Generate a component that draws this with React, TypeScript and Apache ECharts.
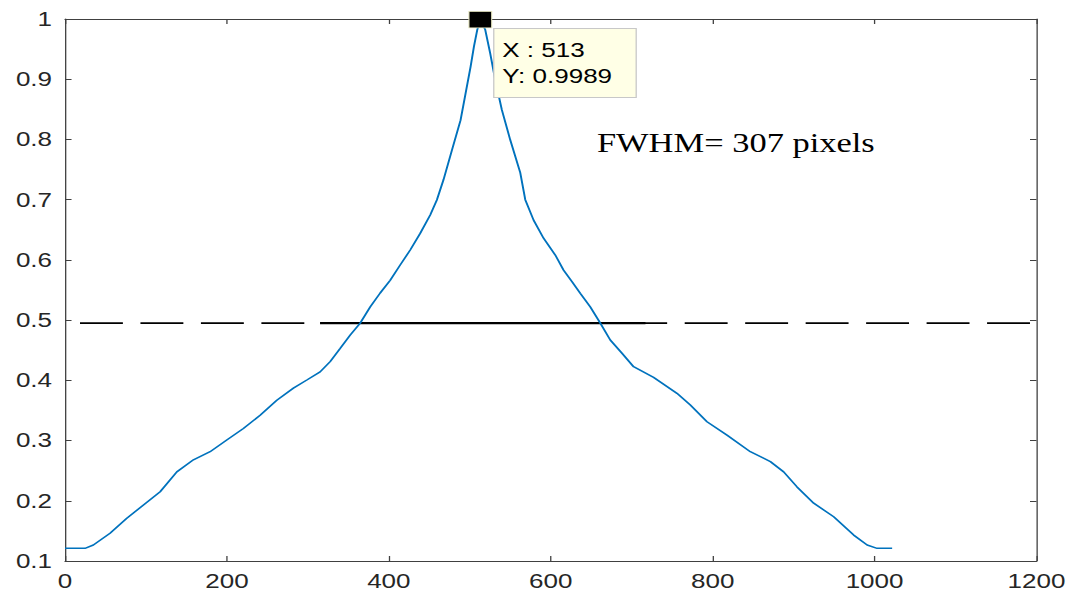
import React, { useEffect, useRef } from "react";
import * as echarts from "echarts";

// Intensity profile (x in pixels, y normalised)
const profileX = [
  0, 24.7, 35, 55.6, 76.3, 96.9, 117.5, 138.1, 158.6, 179.2, 199.8, 220.3, 241, 261.6, 282.1,
  298.7, 315.1, 327.5, 339.9, 352.2, 364.6, 377, 389.3, 401.6, 414, 426.4, 438.7, 451.1, 459.3,
  467.5, 478.3, 488.6, 494.8, 501, 505.1, 509.2, 513, 519.1, 525.2, 531.4, 539.6, 550, 562.3,
  568.5, 578.8, 591.1, 605.6, 615.8, 626.2, 636.5, 648.8, 661.2, 673.5, 688, 702.3, 727, 755.9,
  772.4, 793, 817.7, 846.5, 871.3, 887.7, 904.2, 924.8, 949.5, 974.2, 990.8, 1003.1, 1021.7,
];
const profileY = [
  0.121, 0.121, 0.1265, 0.146, 0.171, 0.193, 0.215, 0.248, 0.268, 0.2815, 0.301, 0.32, 0.342,
  0.367, 0.387, 0.4005, 0.414, 0.431, 0.453, 0.475, 0.495, 0.522, 0.545, 0.566, 0.5915, 0.6164,
  0.644, 0.6745, 0.6994, 0.733, 0.784, 0.832, 0.8766, 0.921, 0.954, 0.982, 0.9989, 0.982, 0.943,
  0.899, 0.849, 0.799, 0.745, 0.7, 0.666, 0.636, 0.608, 0.583, 0.564, 0.5445, 0.522, 0.495,
  0.467, 0.445, 0.4226, 0.405, 0.3784, 0.359, 0.3313, 0.309, 0.2815, 0.265, 0.248, 0.223, 0.196,
  0.1735, 0.143, 0.1265, 0.121, 0.121,
];

const peakX = 513;
const peakY = 0.9989;
const halfMax = 0.495;
const halfStartX = 315;
const halfEndX = 717;
const fwhmText = "FWHM= 307 pixels";

const xTicks = { min: 0, max: 1200, interval: 200 };
const yTicks = { min: 0.1, max: 1, interval: 0.1 };

const SCALE_X = 1069 / 822;

export default function App() {
  const ref = useRef<HTMLDivElement>(null);

  useEffect(() => {
    if (!ref.current) return;
    const chart = echarts.init(ref.current, null, { renderer: "svg" });
    const axisColor = "#404040";
    const labelFont = {
      color: "#262626",
      fontFamily: "Liberation Sans, Arial, sans-serif",
      fontSize: 20,
    };
    const baseX = {
      type: "value" as const,
      ...xTicks,
      splitLine: { show: false },
      axisLine: { show: true, onZero: false, lineStyle: { color: axisColor, width: 1 } },
      axisTick: { show: true, inside: true, length: 5, lineStyle: { color: axisColor } },
    };
    const baseY = {
      type: "value" as const,
      ...yTicks,
      splitLine: { show: false },
      axisLine: { show: true, onZero: false, lineStyle: { color: axisColor, width: 1 } },
      axisTick: { show: true, inside: true, length: 5, lineStyle: { color: axisColor } },
    };
    chart.setOption({
      animation: false,
      backgroundColor: "#ffffff",
      grid: { left: 50, right: 25, top: 19, bottom: 33, containLabel: false, outerBoundsMode: "none" },
      xAxis: [
        {
          ...baseX,
          position: "bottom",
          axisLabel: { ...labelFont, margin: 10, formatter: (v: number) => String(v) },
        },
        { ...baseX, position: "top", axisLabel: { show: false } },
      ],
      yAxis: [
        {
          ...baseY,
          position: "left",
          axisLabel: {
            ...labelFont,
            margin: 10,
            formatter: (v: number) => String(Math.round(v * 10) / 10),
          },
        },
        { ...baseY, position: "right", axisLabel: { show: false } },
      ],
      graphic: [
        {
          type: "text",
          x: 459,
          y: 143,
          style: {
            text: fwhmText,
            fill: "#000000",
            font: "26.5px 'Liberation Serif', 'Times New Roman', serif",
            verticalAlign: "middle",
            align: "left",
          },
        },
      ],
      series: [
        {
          type: "line",
          name: "half-dashed",
          data: [
            [xTicks.min, halfMax],
            [xTicks.max, halfMax],
          ],
          symbol: "none",
          lineStyle: { color: "#000000", width: 1.8, type: [33, 13.5], dashOffset: 35 },
          z: 1,
        },
        {
          type: "line",
          name: "half-solid",
          data: [
            [halfStartX, halfMax],
            [halfEndX, halfMax],
          ],
          symbol: "none",
          lineStyle: { color: "#000000", width: 2.2, type: "solid" },
          z: 3,
        },
        {
          type: "line",
          name: "profile",
          data: profileX.map((x, i) => [x, profileY[i]]),
          symbol: "none",
          lineStyle: { color: "#0072BD", width: 1.5 },
          z: 4,
        },
        {
          type: "scatter",
          name: "peak",
          data: [[peakX, peakY]],
          symbol: "rect",
          symbolSize: [17.5, 16.5],
          itemStyle: { color: "#000000", opacity: 1, borderColor: "#e8e8c0", borderWidth: 0.8 },
          z: 5,
          label: {
            show: true,
            position: [20, 18],
            formatter: () => `X : ${peakX}\nY: ${peakY}`,
            fontFamily: "Liberation Sans, Arial, sans-serif",
            fontSize: 20,
            lineHeight: 26,
            color: "#000000",
            align: "left",
            verticalAlign: "top",
            backgroundColor: "#FFFFE6",
            borderColor: "#c8c8c8",
            borderWidth: 1,
            padding: [8, 18, 8, 6],
          },
        },
      ],
    });
    return () => chart.dispose();
  }, []);

  return (
    <div
      style={{
        position: "fixed",
        left: 0,
        top: 0,
        width: 1069,
        height: 594,
        overflow: "hidden",
        background: "#ffffff",
      }}
    >
      <div
        ref={ref}
        style={{
          width: 822,
          height: 594,
          transform: `scaleX(${SCALE_X})`,
          transformOrigin: "0 0",
        }}
      />
    </div>
  );
}
